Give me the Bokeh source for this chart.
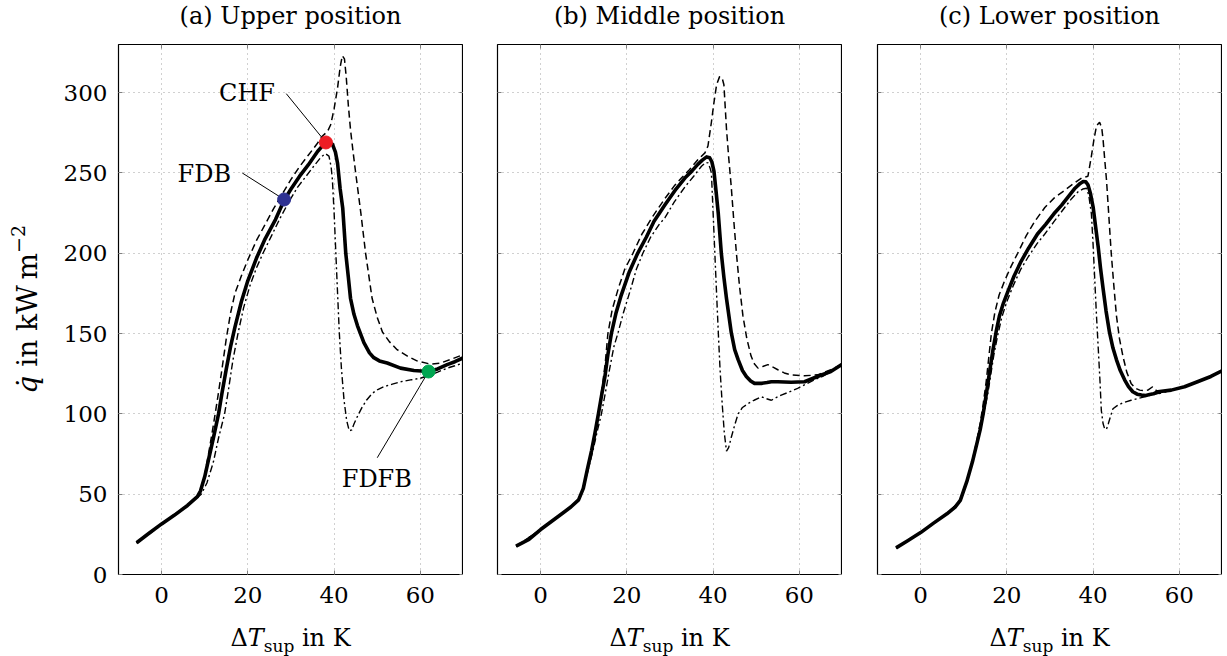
from bokeh.plotting import figure
from bokeh.layouts import row, column
from bokeh.models import Label, LinearAxis, Range1d, FixedTicker, CustomJSTickFormatter, Div, Spacer
from bokeh.embed import file_html
from bokeh.resources import INLINE

# ---------------- data ----------------
titles = ["(a) Upper position", "(b) Middle position", "(c) Lower position"]
x_ticks = [0, 20, 40, 60]
y_ticks = [0, 50, 100, 150, 200, 250, 300]

# Panel (a)
a_solid_x = [-5.8, -3, 0, 3, 6, 8.3, 9, 10, 11, 12, 13.2, 14, 15, 16, 17, 18.5, 20, 22, 24, 26.4, 28.4, 30, 32, 34, 36.2, 37.5, 38.6, 39.6, 40.3, 40.8, 41.4, 42, 42.7, 43.3, 43.8, 44.6, 45.4, 46.9, 48.2, 49.2, 50.5, 52.3, 55.4, 58.5, 61.9, 64, 66.2, 68, 70]
a_solid_y = [19.8, 25.5, 31.5, 37, 43, 48.5, 52, 61, 73, 85, 100, 113, 128, 142, 154, 170, 183, 197, 209, 221, 233, 240, 248, 255, 263.5, 267.5, 269, 268, 263, 256, 240, 228, 200, 185, 172, 162, 155, 144.4, 138, 135, 133, 131.7, 128.5, 127, 126.4, 128, 130.7, 132.5, 135]
a_dash_x = [-5.8, -3, 0, 3, 6, 8.3, 9, 10, 11, 12, 13, 14, 15, 16, 17, 18.5, 20, 22, 24, 26, 28, 30, 32, 34, 36, 37.3, 38.5, 39.2, 40, 40.8, 41.4, 41.9, 42.4, 42.8, 43.3, 43.8, 44.4, 45, 46.2, 47.3, 48.8, 50, 51.2, 52.8, 54.6, 57, 59.2, 62.3, 64.5, 66.9, 70]
a_dash_y = [19.5, 25.5, 31.5, 37.5, 43, 48, 51, 62, 77, 93, 110, 128, 147, 163, 175, 186, 196, 208, 218, 228, 237, 246, 254, 261, 268, 273, 276, 280, 290, 303, 316, 323, 321, 310, 292, 277, 263, 250, 225, 200, 172, 160, 151, 145, 140, 136, 133, 131, 131.5, 133.8, 137]
a_dd_x = [-5.8, -3, 0, 3, 6, 8.5, 9.2, 10.5, 12, 13.2, 14.6, 15.5, 16.5, 17.7, 19, 20.5, 22, 23.5, 25.5, 27.5, 29.5, 31.5, 33.5, 35.5, 37, 38, 38.8, 39.3, 39.6, 40, 40.4, 40.8, 41.2, 41.7, 42.3, 42.9, 43.5, 44.1, 44.6, 45.5, 46.5, 47.5, 48.8, 50, 51.5, 53.5, 55.4, 58, 60, 62.3, 64, 66.2, 68, 70]
a_dd_y = [19.5, 25, 31, 37, 43, 48.5, 50, 57, 70, 85, 100, 115, 133, 150, 166, 180, 191, 200, 211, 222, 232, 241, 248, 255, 260, 262, 260.5, 254, 245.7, 225, 200, 175, 150.7, 128, 108.5, 96, 89.5, 90, 93.7, 99, 104.2, 108.5, 112.7, 115, 116.9, 118.5, 120, 121.3, 122.2, 124.3, 126, 128.5, 130, 131.7]

# Panel (b)
b_solid_x = [-5.7, -2.7, 0, 2.5, 5, 7, 8.8, 9.9, 10.8, 11.8, 12.6, 13.4, 14.1, 14.9, 15.6, 16.4, 17.5, 18.7, 20.5, 22.5, 24.5, 26.3, 28.8, 31.4, 33.5, 35, 36.5, 37.5, 38.5, 39.2, 39.7, 40.2, 40.7, 41.2, 41.9, 42.5, 43.1, 44.2, 45, 45.8, 46.8, 47.7, 48.7, 49.6, 51.2, 52.5, 53.5, 55, 58.1, 61.2, 64.2, 67.3, 70]
b_solid_y = [17.7, 21.9, 28, 33, 38, 42, 46.5, 53.6, 65, 77, 88, 100, 111, 123, 137, 150, 163, 174, 188, 200, 210, 220, 230, 240, 247, 251, 255.5, 258, 260, 259.5, 257, 251, 238, 224.6, 200, 185, 171.8, 150.7, 140, 133.8, 127, 123.3, 120.5, 119, 119, 119.5, 120, 120, 119.7, 120, 123.3, 126.4, 131]
b_dash_x = [-5.7, 0, 5, 8.8, 10, 11, 12.2, 13.4, 14.3, 15, 15.6, 16.6, 18, 19.5, 21.4, 23.5, 26, 28.8, 31, 32.7, 34.5, 36.5, 38.1, 38.8, 39.6, 40.2, 40.8, 41.5, 42.1, 42.5, 43.1, 43.6, 44.2, 44.8, 45.4, 46.1, 46.9, 47.8, 48.8, 49.6, 50.4, 51.5, 52.7, 54, 55, 56.5, 58.1, 61.2, 64.2, 67.3, 70]
b_dash_y = [17.5, 28, 38, 46, 54, 66, 82, 100, 117, 132, 150, 165, 178, 190, 200, 212, 223, 234, 242, 247, 252, 258.4, 262.5, 266.8, 281.6, 294, 304.9, 310, 309, 304.9, 277.4, 260, 241.5, 220, 200, 180, 161.3, 147, 136, 131, 128.5, 129.5, 130.7, 129, 127.5, 125.5, 124.3, 123.7, 124.3, 127.5, 131]
b_dd_x = [-5.7, 0, 5, 8.8, 10, 11, 12.2, 13.2, 14.1, 15, 16, 17, 17.9, 19.2, 20.8, 22.2, 23.7, 25.5, 27.5, 28.8, 31, 33.5, 35.5, 37.3, 38.3, 38.8, 39.3, 39.6, 40, 40.4, 40.8, 41.2, 41.6, 42.1, 42.6, 43.1, 43.6, 44.2, 45, 45.8, 46.8, 48.1, 49.5, 51.2, 52.3, 53.5, 54.5, 55.8, 57.5, 59.6, 61.5, 63.5, 65.5, 67.3, 70]
b_dd_y = [17.5, 28, 38, 46.5, 54, 65, 78, 90, 100, 113, 128, 142, 150, 163, 177, 190, 200, 210, 218, 222, 232, 241.5, 248, 254.2, 256.5, 256.3, 253, 250, 225, 200, 175, 150.7, 128, 106.4, 88, 76.8, 79, 85.3, 93, 100, 104, 106.4, 108.5, 110.6, 109.5, 108.5, 110, 111.7, 113.5, 115.9, 118.5, 121.2, 123.5, 126.4, 131]

# Panel (c)
c_solid_x = [-5.7, -3, 0, 3, 6.1, 8, 9.2, 10.7, 12, 13, 13.8, 14.5, 15.1, 15.6, 16.2, 16.8, 17.5, 18.3, 19.2, 20.2, 21.7, 23.3, 25, 27.1, 29, 30.9, 32.7, 34.3, 35.8, 37, 37.7, 38.3, 38.8, 39.4, 40, 40.6, 41.2, 41.7, 42.3, 43, 43.8, 44.6, 45.4, 46.3, 47.3, 48.2, 49.2, 50.2, 51.2, 52.2, 53.1, 54, 55, 58.1, 61.2, 64.2, 67.3, 70]
c_solid_y = [16.6, 21, 26.1, 32, 37.8, 42, 46.2, 57.8, 70, 81, 90, 100, 110, 119, 130, 140.2, 151, 161.3, 169, 176, 186, 195, 203, 212, 218, 224.6, 230, 235.5, 240.5, 243.5, 244.7, 244.5, 242.6, 237, 228.8, 216, 203.5, 191, 178.2, 164, 150.7, 141, 133.8, 127, 121.2, 117, 113.8, 112.3, 111.7, 111.5, 112.1, 112.5, 113.8, 114.8, 116.9, 120, 123.3, 127]
c_dash_x = [-5.7, 0, 6, 9.2, 10.7, 12, 13, 13.8, 14.5, 15.2, 15.8, 16.4, 17.2, 18.2, 19.5, 21, 22.5, 24.5, 26.5, 28.8, 31, 33.5, 35.5, 37.3, 38.2, 38.8, 39.6, 40.2, 40.8, 41.5, 42, 42.3, 42.7, 43.1, 43.6, 44.2, 44.8, 45.4, 46.1, 46.9, 47.8, 48.8, 49.8, 50.8, 51.8, 52.7, 53.8, 54.5, 55.4, 56.5, 58.1, 61.2, 64.2, 67.3, 70]
c_dash_y = [16.5, 26, 37.5, 46, 58, 71, 83, 94, 106, 120, 135, 150, 163, 174, 183, 192, 200, 211, 220, 228.5, 234.5, 239.4, 243.5, 246.8, 247.5, 248, 260.5, 271, 279.5, 281.6, 278, 271, 258, 245.7, 225, 200, 180, 161.3, 147, 136, 126, 119, 116, 114.8, 114.5, 114.8, 116.9, 115, 112.7, 113.5, 114.8, 116.9, 120, 123.3, 127]
c_dd_x = [-5.7, 0, 6, 9.2, 10.7, 12, 13, 14, 14.8, 15.6, 16.3, 17, 17.8, 18.8, 20, 21.5, 23.2, 25, 27, 28.8, 31, 33.5, 35, 36.5, 37.6, 38.5, 39, 39.6, 40, 40.4, 40.8, 41.2, 41.6, 41.9, 42.3, 42.7, 43.1, 43.5, 44.1, 44.6, 45.5, 46.5, 47.6, 48.8, 50.3, 51.9, 53.5, 55, 58.1, 61.2, 64.2, 67.3, 70]
c_dd_y = [16.5, 26, 37.5, 46, 57.5, 70, 81, 93, 102, 113, 125, 137, 148, 160, 170, 180, 190, 198, 206, 212, 220, 228.8, 234, 238.3, 240, 240.5, 236, 224.6, 205, 182.4, 160, 140.2, 120, 102.2, 94, 90.5, 90.5, 93.7, 99, 103.2, 105, 106.4, 107.5, 108.5, 109.5, 110.6, 111.7, 112.7, 114.8, 116.9, 120, 123.3, 127]

# Characteristic points in panel (a): FDB, CHF, FDFB
point_names = ["FDB", "CHF", "FDFB"]
point_x = [28.4, 38.1, 61.9]
point_y = [233.5, 269.0, 126.4]
point_colors = ["#2E3192", "#ED1C24", "#00A651"]
# annotation text anchors and pin-line starts (data units)
note_text_x = [9.9, 19.8, 49.9]
note_text_y = [249.5, 299.5, 59.6]
pin_start_x = [18.7, 28.9, 50.0]
pin_start_y = [250.0, 299.4, 72.7]

panels = [
    (a_solid_x, a_solid_y, a_dash_x, a_dash_y, a_dd_x, a_dd_y),
    (b_solid_x, b_solid_y, b_dash_x, b_dash_y, b_dd_x, b_dd_y),
    (c_solid_x, c_solid_y, c_dash_x, c_dash_y, c_dd_x, c_dd_y),
]

FONT = "DejaVu Serif"
FS = "23px"
TITLE_H = 36
XLAB_H = 32
FIG_H = 656 - TITLE_H - XLAB_H
BORDER_TOP = 44 - TITLE_H
YLAB_W = 45


def style_axis(ax, ticks, show_labels, standoff):
    ax.ticker = FixedTicker(ticks=ticks)
    ax.major_tick_in = 4
    ax.major_tick_out = 0
    ax.major_tick_line_color = "#808080"
    ax.major_tick_line_width = 1
    ax.minor_tick_line_color = None
    ax.axis_line_color = None
    ax.major_label_text_font = FONT
    ax.major_label_text_font_size = FS
    ax.major_label_text_color = "black"
    if show_labels:
        ax.major_label_standoff = standoff
    else:
        ax.formatter = CustomJSTickFormatter(code="return ''")
        ax.major_label_standoff = 0
        ax.major_label_text_font_size = "0px"


figs = []
left_borders = [118 - YLAB_W, 34, 35]
for i, (sx, sy, dx, dy, ddx, ddy) in enumerate(panels):
    p = figure(frame_width=345, frame_height=530,
               x_range=Range1d(-10, 70), y_range=Range1d(0, 330),
               output_backend="svg", toolbar_location=None,
               min_border_left=left_borders[i], min_border_right=0,
               min_border_top=BORDER_TOP, min_border_bottom=FIG_H - BORDER_TOP - 530)
    p.background_fill_color = "white"
    p.border_fill_color = "white"
    p.outline_line_color = "black"
    p.outline_line_width = 1.2

    style_axis(p.xaxis[0], x_ticks, True, 12)
    style_axis(p.yaxis[0], y_ticks, i == 0, 11)
    top = LinearAxis()
    style_axis(top, x_ticks, False, 0)
    p.add_layout(top, "above")
    right = LinearAxis()
    style_axis(right, y_ticks, False, 0)
    p.add_layout(right, "right")

    p.xgrid.ticker = FixedTicker(ticks=x_ticks)
    p.ygrid.ticker = FixedTicker(ticks=y_ticks)
    for g in (p.xgrid[0], p.ygrid[0]):
        g.grid_line_color = "#a0a0a0"
        g.grid_line_dash = "1 4"
        g.grid_line_width = 1

    p.line(dx, dy, line_color="black", line_width=1.5, line_dash="7 4")
    p.line(ddx, ddy, line_color="black", line_width=1.4, line_dash="7 3 2 3")
    p.line(sx, sy, line_color="black", line_width=3.6, line_join="round")

    if i == 0:
        for k in range(3):
            p.line([pin_start_x[k], point_x[k]], [pin_start_y[k], point_y[k]],
                   line_color="black", line_width=1)
            p.add_layout(Label(x=note_text_x[k], y=note_text_y[k], text=point_names[k],
                               text_font=FONT, text_font_size="24px", text_color="black",
                               text_align="center", text_baseline="middle"))
        p.scatter(point_x, point_y, size=13, fill_color=point_colors,
                  line_color=point_colors, marker="circle")
    figs.append(p)

TXT = "font-family:'DejaVu Serif';line-height:1;white-space:nowrap;color:black;"

ylab_html = (
    f'<div style="width:{YLAB_W}px;height:{FIG_H}px;display:flex;align-items:center;'
    'justify-content:center;">'
    f'<span style="writing-mode:vertical-rl;transform:rotate(180deg);{TXT}font-size:28px;'
    f'margin-left:6px;margin-top:{2 * BORDER_TOP + 530 - FIG_H}px;">'
    '<i>q\u0307</i> in kW\u2009m<sup style="font-size:19px;">\u22122</sup></span></div>'
)
ydiv = Div(text=ylab_html, width=YLAB_W, height=FIG_H, margin=0)


def title_div(t):
    html = (f'<div style="width:345px;text-align:center;{TXT}font-size:24px;padding-top:4px;">'
            f'{t}</div>')
    return Div(text=html, width=345, height=TITLE_H, margin=0)


xlab_html = (
    f'<div style="width:345px;text-align:center;{TXT}font-size:24px;padding-top:2px;">'
    '\u0394<i>T</i><sub style="font-size:17px;">sup</sub> in K</div>'
)
xdivs = [Div(text=xlab_html, width=345, height=XLAB_H, margin=0) for _ in range(3)]
tdivs = [title_div(t) for t in titles]

title_row = row(Spacer(width=118, height=TITLE_H), tdivs[0], Spacer(width=34, height=10),
                tdivs[1], Spacer(width=35, height=10), tdivs[2], spacing=0)
mid_row = row(ydiv, *figs, spacing=0)
bottom_row = row(Spacer(width=118, height=XLAB_H), xdivs[0], Spacer(width=34, height=10),
                 xdivs[1], Spacer(width=35, height=10), xdivs[2], spacing=0)
layout = column(title_row, mid_row, bottom_row, spacing=0)
open("out.html", "w").write(file_html(layout, INLINE))
